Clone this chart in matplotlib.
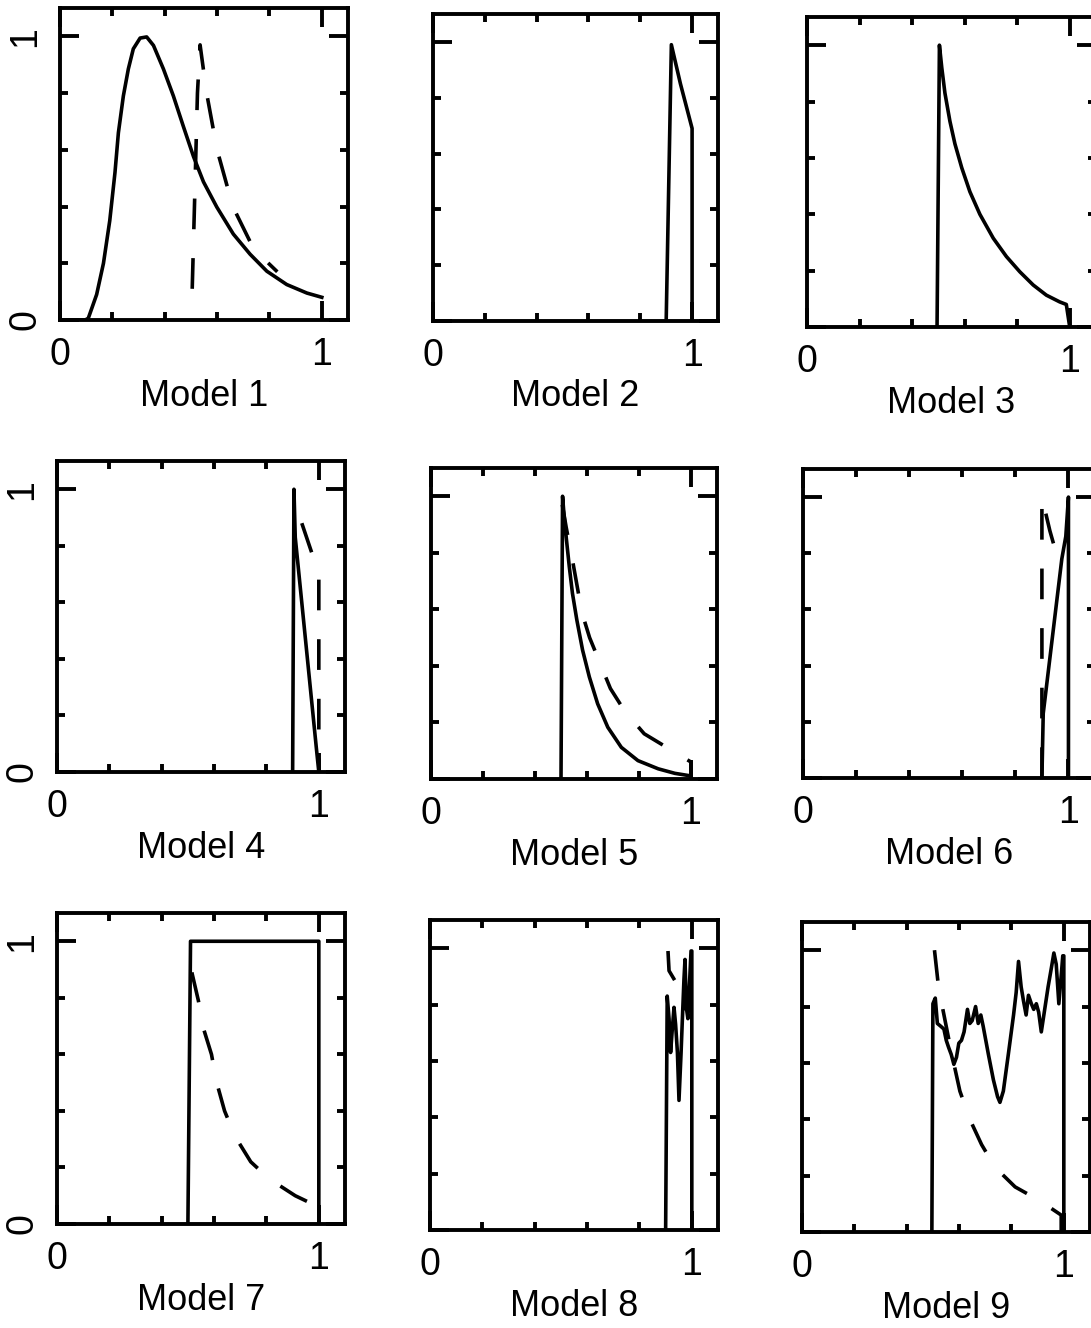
import matplotlib.pyplot as plt

plt.rcParams['font.family'] = ['Liberation Sans', 'DejaVu Sans']

# ---- data (x and y both on 0..1 scale) ----
m1_x = [0.0, 0.096, 0.108, 0.14, 0.166, 0.19, 0.21, 0.223, 0.242, 0.261, 0.28, 0.306, 0.331, 0.357,
        0.395, 0.433, 0.471, 0.51, 0.548, 0.599, 0.662, 0.726, 0.79, 0.866, 0.943, 1.0]
m1_y = [0.0, 0.0, 0.006, 0.09, 0.20, 0.35, 0.52, 0.66, 0.79, 0.885, 0.956, 0.994, 0.998, 0.968,
        0.885, 0.79, 0.683, 0.576, 0.487, 0.398, 0.303, 0.232, 0.172, 0.125, 0.095, 0.08]
m1_dx = [0.505, 0.515, 0.525, 0.535, 0.56, 0.60, 0.66, 0.74, 0.83]
m1_dy = [0.11, 0.45, 0.80, 0.97, 0.80, 0.60, 0.40, 0.25, 0.17]

m2_x = [0.90, 0.92, 0.955, 1.0, 1.0]
m2_y = [0.0, 0.99, 0.85, 0.69, 0.0]

m3_x = [0.495, 0.504, 0.513, 0.525, 0.544, 0.563, 0.589, 0.62, 0.658, 0.709, 0.759, 0.81, 0.861, 0.911, 0.962, 0.987, 1.0]
m3_y = [0.0, 1.0, 0.92, 0.83, 0.73, 0.65, 0.565, 0.48, 0.40, 0.315, 0.25, 0.196, 0.149, 0.113, 0.089, 0.08, 0.0]

m4_x = [0.90, 0.905, 0.91, 0.99, 1.0]
m4_y = [0.0, 1.0, 0.83, 0.09, 0.0]
m4_dx = [0.935, 0.975, 1.0, 1.0]
m4_dy = [0.88, 0.77, 0.72, 0.0]

m5_x = [0.50, 0.506, 0.512, 0.521, 0.532, 0.544, 0.561, 0.583, 0.609, 0.641, 0.68, 0.732, 0.796, 0.874, 0.938, 0.992]
m5_y = [0.0, 1.0, 0.93, 0.846, 0.75, 0.657, 0.562, 0.456, 0.361, 0.266, 0.183, 0.112, 0.065, 0.036, 0.02, 0.012]
m5_dx = [0.505, 0.52, 0.545, 0.58, 0.61, 0.65, 0.69, 0.745, 0.82, 0.91, 1.0, 1.0]
m5_dy = [0.97, 0.89, 0.77, 0.59, 0.50, 0.41, 0.32, 0.24, 0.16, 0.11, 0.06, 0.0]

m6_x = [0.90, 0.905, 0.975, 0.99, 1.0, 1.0]
m6_y = [0.0, 0.23, 0.78, 0.86, 1.0, 0.0]
m6_dx = [0.90, 0.90, 0.93, 0.96]
m6_dy = [0.0, 1.0, 0.88, 0.78]

m7_x = [0.50, 0.51, 1.0, 1.0]
m7_y = [0.0, 1.0, 1.0, 0.0]
m7_dx = [0.515, 0.54, 0.56, 0.59, 0.61, 0.64, 0.68, 0.74, 0.81, 0.91, 1.0, 1.0]
m7_dy = [0.89, 0.79, 0.69, 0.60, 0.50, 0.40, 0.31, 0.22, 0.16, 0.10, 0.06, 0.0]

m8_x = [0.90, 0.906, 0.913, 0.919, 0.926, 0.932, 0.938, 0.945, 0.951, 0.959, 0.964, 0.97, 0.974, 0.979, 0.985, 0.99, 0.997, 1.0, 1.0]
m8_y = [0.0, 0.83, 0.75, 0.63, 0.72, 0.79, 0.73, 0.63, 0.46, 0.63, 0.75, 0.89, 0.96, 0.79, 0.75, 0.85, 0.99, 0.99, 0.0]
m8_dx = [0.909, 0.913, 0.945, 0.975]
m8_dy = [0.99, 0.92, 0.87, 0.78]

m9_x = [0.496, 0.50, 0.509, 0.517, 0.53, 0.542, 0.551, 0.56, 0.57, 0.58, 0.59, 0.599, 0.609, 0.619,
        0.632, 0.641, 0.65, 0.663, 0.673, 0.683, 0.692, 0.712, 0.731, 0.747, 0.756, 0.769, 0.788,
        0.808, 0.818, 0.827, 0.837, 0.846, 0.856, 0.865, 0.876, 0.885, 0.895, 0.904, 0.914, 0.927,
        0.94, 0.953, 0.962, 0.971, 0.981, 0.991, 0.996, 1.0, 1.0]
m9_y = [0.0, 0.81, 0.83, 0.74, 0.73, 0.72, 0.68, 0.655, 0.63, 0.595, 0.62, 0.67, 0.68, 0.71,
        0.79, 0.74, 0.75, 0.80, 0.74, 0.77, 0.73, 0.63, 0.54, 0.48, 0.46, 0.50, 0.63,
        0.77, 0.85, 0.96, 0.87, 0.82, 0.77, 0.84, 0.81, 0.79, 0.81, 0.78, 0.71, 0.79,
        0.87, 0.94, 0.99, 0.95, 0.81, 0.92, 0.98, 0.98, 0.0]
m9_dx = [0.506, 0.519, 0.538, 0.57, 0.603, 0.641, 0.686, 0.737, 0.814, 0.91, 0.99, 0.99]
m9_dy = [1.0, 0.89, 0.79, 0.64, 0.50, 0.40, 0.31, 0.23, 0.16, 0.11, 0.06, 0.0]

names = ['Model 1', 'Model 2', 'Model 3', 'Model 4', 'Model 5', 'Model 6', 'Model 7', 'Model 8', 'Model 9']
solid = [(m1_x, m1_y), (m2_x, m2_y), (m3_x, m3_y), (m4_x, m4_y), (m5_x, m5_y),
         (m6_x, m6_y), (m7_x, m7_y), (m8_x, m8_y), (m9_x, m9_y)]
dashed = [(m1_dx, m1_dy), None, None, (m4_dx, m4_dy), (m5_dx, m5_dy),
          (m6_dx, m6_dy), (m7_dx, m7_dy), (m8_dx, m8_dy), (m9_dx, m9_dy)]

# panel boxes in pixels: left, top, right, bottom
boxes = [(60, 8, 348, 320), (433, 14, 718, 321), (807, 17, 1096, 327),
         (57, 461, 345, 772), (431, 468, 717, 779), (803, 469, 1095, 778),
         (57, 913, 345, 1224), (430, 920, 718, 1230), (802, 922, 1090, 1232)]

W, H = 1091, 1328
fig = plt.figure(figsize=(W / 100, H / 100), dpi=100)

for i in range(9):
    l, t, r, b = boxes[i]
    ax = fig.add_axes([l / W, 1 - b / H, (r - l) / W, (b - t) / H])
    ax.set_xlim(0, 1.1)
    ax.set_ylim(0, 1.1)
    for s in ax.spines.values():
        s.set_linewidth(2.8)
    ax.set_xticks([0, 1])
    ax.set_xticklabels(['0', '1'])
    ax.set_yticks([0, 1])
    ax.set_yticklabels(['0', '1'], rotation=90, va='center')
    ax.set_xticks([0.2, 0.4, 0.6, 0.8], minor=True)
    ax.set_yticks([0.2, 0.4, 0.6, 0.8], minor=True)
    ax.tick_params(which='both', direction='in', top=True, right=True, width=2.8)
    ax.tick_params(which='major', length=14, pad=12, labelsize=27)
    ax.tick_params(which='minor', length=6)
    if i % 3 != 0:
        ax.tick_params(labelleft=False)

    ax.plot(solid[i][0], solid[i][1], color='black', lw=2.6, solid_joinstyle='round')
    if dashed[i] is not None:
        ax.plot(dashed[i][0], dashed[i][1], color='black', lw=2.6, ls=(0, (8.5, 8)))

    ax.text(0.5, -0.19, names[i], transform=ax.transAxes, ha='center', va='top', fontsize=26)

plt.savefig('out.png', dpi=100)
